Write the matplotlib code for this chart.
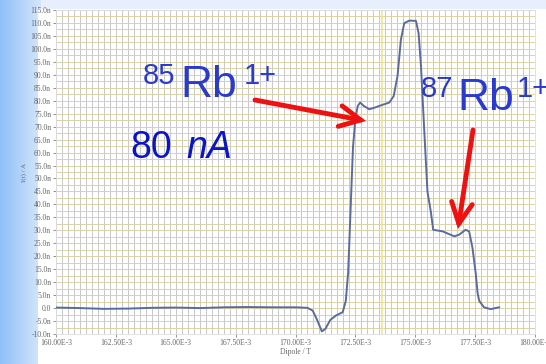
import numpy as np
import matplotlib
matplotlib.use("Agg")
import matplotlib.pyplot as plt
from matplotlib.patches import FancyArrowPatch, Rectangle

# Dipole field (units of 1e-3 T) and beam current (nA)
dipole_mT = [160.0, 161.0, 162.0, 163.0, 164.0, 165.0, 166.0, 167.0, 168.0, 169.0,
             170.0, 170.5, 170.72, 170.9, 171.1, 171.25, 171.45, 171.7, 171.97,
             172.1, 172.2, 172.3, 172.4, 172.5, 172.6, 172.7, 172.85, 173.08,
             173.3, 173.5, 173.92, 174.1, 174.26, 174.4, 174.54, 174.75, 175.03,
             175.14, 175.24, 175.38, 175.51, 175.65, 175.75, 176.14, 176.63,
             176.83, 177.1, 177.25, 177.39, 177.53, 177.6, 177.67, 177.87,
             178.15, 178.5]
current_nA = [0.2, 0.0, -0.3, -0.2, 0.1, 0.2, 0.0, 0.3, 0.4, 0.3,
              0.3, 0.1, -1.0, -4.5, -9.0, -8.0, -4.6, -2.8, -1.6,
              2.8, 14.0, 38.0, 62.0, 73.0, 78.0, 79.3, 78.0, 76.7,
              77.3, 78.0, 79.3, 81.8, 89.5, 103.5, 109.9, 110.9, 110.8,
              106.0, 93.3, 67.8, 44.9, 37.2, 30.2, 29.6, 27.7,
              28.3, 30.2, 29.6, 23.2, 13.0, 6.0, 2.8, 0.3,
              -0.4, 0.3]

x_ticks = [160.0, 162.5, 165.0, 167.5, 170.0, 172.5, 175.0, 177.5, 180.0]
x_tick_labels = ["160.00E-3", "162.50E-3", "165.00E-3", "167.50E-3", "170.00E-3",
                 "172.50E-3", "175.00E-3", "177.50E-3", "180.00E-3"]
y_ticks = list(range(-10, 116, 5))
y_tick_labels = ["0.0" if v == 0 else f"{v:.1f}n" for v in y_ticks]

W, H = 546, 364
fig = plt.figure(figsize=(W / 100, H / 100), dpi=100)
fig.patch.set_facecolor("#e6effb")


def fx(px):
    return px / W


def fy(py):
    return 1 - py / H


# slide background: blue gradient strip on the left, white panel behind the chart
grad = np.linspace(0, 1, 256).reshape(1, -1)
bg = fig.add_axes([0, 0, 1, 1], zorder=-2)
bg.set_axis_off()
bg.imshow(grad, extent=[0, 0.075, 0, 1], aspect="auto",
          cmap=matplotlib.colors.LinearSegmentedColormap.from_list("g", ["#8ec0f8", "#d6e6fb"]),
          transform=bg.transAxes)
bg.add_patch(Rectangle((0.07, 0), 0.93, 0.975, transform=bg.transAxes,
                       facecolor="white", edgecolor="none"))
bg.set_xlim(0, 1)
bg.set_ylim(0, 1)

ax = fig.add_axes([fx(56), 30 / H, 479 / W, 324 / H])
ax.set_facecolor("white")
ax.set_xlim(160.0, 180.0)
ax.set_ylim(-10, 115)

# grid: grey vertical lines every 0.25e-3 T, olive horizontal lines every 2.5 nA
for xv in np.arange(160.0, 180.01, 0.25):
    ax.axvline(xv, color="#c9c9c9", lw=0.7, zorder=0)
for yv in np.arange(-10, 115.01, 2.5):
    ax.axhline(yv, color="#d9d3a6", lw=0.7, zorder=0)
ax.axvline(173.6, color="#eee49a", lw=1.2, zorder=0)

ax.plot(dipole_mT, current_nA, color="#5b6b9c", lw=1.4, zorder=3)

ax.set_xticks(x_ticks)
ax.set_xticklabels(x_tick_labels)
ax.set_yticks(y_ticks)
ax.set_yticklabels(y_tick_labels)
ax.tick_params(labelsize=5.5, colors="#666666", length=2, width=0.5, pad=1.5)
for lab in ax.get_xticklabels() + ax.get_yticklabels():
    lab.set_family("Liberation Serif")
for s in ax.spines.values():
    s.set_color("#dddddd")
    s.set_linewidth(0.6)

ax.set_xlabel("Dipole / T", fontsize=5.5, color="#666666", family="Liberation Serif", labelpad=1)
ax.set_ylabel("I(t) / A", fontsize=5, color="#666666", family="Liberation Serif", labelpad=2)

# isotope labels: superscript mass number, element symbol, superscript charge
iso_blue = "#2a3acb"
for mass, x_mass, x_sym, x_chg, base, sup_base in [("85", 143, 180, 244, 97, 84),
                                                   ("87", 421, 457, 517, 110, 97)]:
    fig.text(fx(x_mass), fy(sup_base), mass, fontsize=21, color=iso_blue,
             family="Liberation Sans", va="baseline")
    fig.text(fx(x_sym), fy(base), "Rb", fontsize=32, color=iso_blue,
             family="Liberation Sans", va="baseline")
    fig.text(fx(x_chg), fy(sup_base), "1+", fontsize=21, color=iso_blue,
             family="Liberation Sans", va="baseline")

fig.text(fx(130), fy(158.5), "80", fontsize=27, color="#0a14c8",
         family="Liberation Sans", va="baseline")
fig.text(fx(186), fy(158.5), "nA", fontsize=27, color="#0a14c8", style="italic",
         family="Liberation Sans", va="baseline")

for (x0, y0), (x1, y1) in [((255, 100), (366, 121)), ((473, 130), (458, 229))]:
    arr = FancyArrowPatch((fx(x0), fy(y0)), (fx(x1), fy(y1)),
                          transform=fig.transFigure, color="#ee1111",
                          arrowstyle="->,head_length=1.0,head_width=0.5", lw=3.5,
                          mutation_scale=15, capstyle="round", joinstyle="miter",
                          shrinkA=0, shrinkB=0, zorder=10)
    fig.patches.append(arr)

fig.savefig("out.png", dpi=100, facecolor=fig.get_facecolor())
